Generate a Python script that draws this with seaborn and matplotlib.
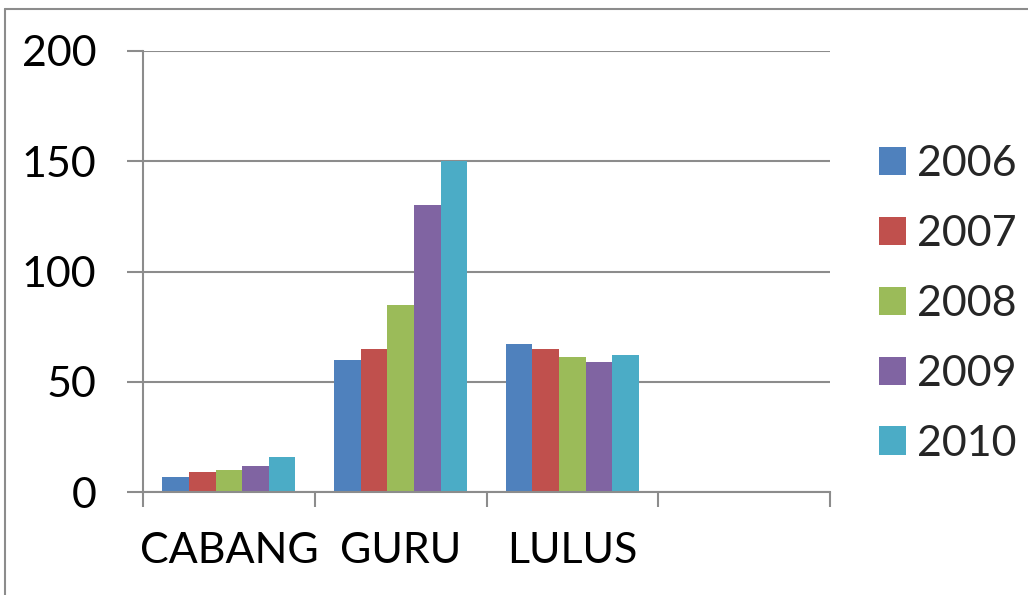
import matplotlib
matplotlib.use("Agg")
import matplotlib.pyplot as plt
from matplotlib.lines import Line2D
import numpy as np
import pandas as pd
import seaborn as sns

categories = ["CABANG", "GURU", "LULUS"]
years = ["2006", "2007", "2008", "2009", "2010"]
cabang = [7, 9, 10, 12, 16]
guru = [60, 65, 85, 130, 150]
lulus = [67, 65, 61, 59, 62]
colors = ["#4F81BD", "#C0504D", "#9BBB59", "#8064A2", "#4BACC6"]
y_ticks = [0, 50, 100, 150, 200]

rows = []
for cat, vals in zip(categories, [cabang, guru, lulus]):
    for yr, v in zip(years, vals):
        rows.append({"cat": cat, "year": yr, "value": v})
df = pd.DataFrame(rows)

sns.set_theme(style="white")
plt.rcParams["font.family"] = ["Lato", "DejaVu Sans"]

W, H = 1028, 595
fs = 31
fig = plt.figure(figsize=(W / 100, H / 100), dpi=100)
ax = fig.add_axes([143 / W, 1 - 492 / H, (830 - 143) / W, (492 - 51) / H])

sns.barplot(data=df, x="cat", y="value", hue="year", order=categories,
            hue_order=years, palette=colors, width=0.775, gap=0,
            saturation=1, edgecolor="none", ax=ax)

grey = "#8C8C8C"
ax.set_xlim(-0.5, 3.5)
ax.set_ylim(0, 200)
ax.set_yticks(y_ticks)
ax.yaxis.grid(True, color=grey, linewidth=1.5)
ax.set_axisbelow(True)
for side in ["top", "right"]:
    ax.spines[side].set_visible(False)
for side in ["left", "bottom"]:
    ax.spines[side].set_color(grey)
    ax.spines[side].set_linewidth(1.5)

ax.set_xlabel("")
ax.set_ylabel("")
ax.tick_params(axis="y", length=11.5, width=1.5, color=grey, direction="out",
               labelsize=fs, pad=22, left=True)
ax.set_xticks([0, 1, 2])
ax.set_xticklabels(categories)
ax.set_xticks([-0.5, 0.5, 1.5, 2.5, 3.5], minor=True)
ax.tick_params(axis="x", which="major", length=0, labelsize=fs, pad=29)
ax.tick_params(axis="x", which="minor", length=10.8, width=1.5, color=grey,
               direction="out", bottom=True)
for lab in ax.get_xticklabels() + ax.get_yticklabels():
    lab.set_color("black")

ax.legend(loc="center left", bbox_to_anchor=(879 / W, 1 - 304 / H),
          bbox_transform=fig.transFigure, frameon=False, fontsize=fs,
          handlelength=0.63, handleheight=0.63, handletextpad=0.25,
          labelspacing=0.74, borderpad=0, borderaxespad=0)

# chart border (cropped at right and bottom)
fig.add_artist(Line2D([4.5 / W, 4.5 / W], [0, 1 - 9 / H], color=grey,
                      linewidth=1.5, transform=fig.transFigure))
fig.add_artist(Line2D([4.5 / W, 1], [1 - 9 / H, 1 - 9 / H], color=grey,
                      linewidth=1.5, transform=fig.transFigure))

fig.savefig("out.png", dpi=100)
